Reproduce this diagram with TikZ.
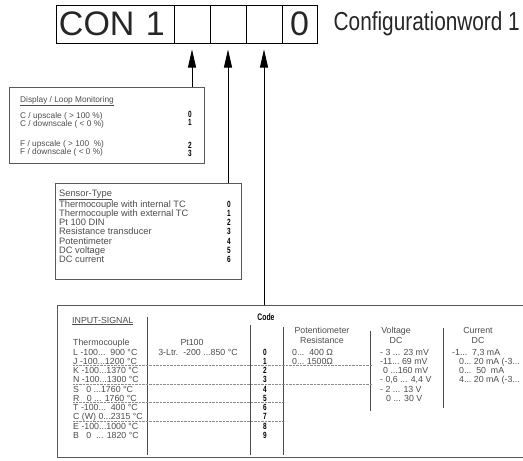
\documentclass[tikz,border=0pt]{standalone}
\usepackage{fontspec}
\setmainfont{Liberation Sans}
\newfontfamily\condfont[FakeStretch=0.8]{Liberation Sans}
\newfontfamily\digfont[FakeStretch=0.72]{Liberation Sans Bold}
\usetikzlibrary{arrows.meta}
\newcommand{\bigsize}{\fontsize{34}{34}\selectfont}
\newcommand{\smallsize}{\fontsize{8.3}{8.3}\selectfont}
\newcommand{\listsize}{\fontsize{8.8}{8.8}\selectfont}
\tikzstyle{arrow}=[draw=black, line width=0.8pt, -{Triangle[length=18pt, width=8pt]}, shorten >=6pt]
\tikzstyle{cell}=[draw=black, line width=1pt, minimum height=38pt, inner sep=0pt, text=black!85, font=\bigsize]
\tikzstyle{panel}=[draw=black!65, line width=0.8pt, anchor=north west, inner sep=0pt]
\tikzstyle{txt}=[anchor=base west, inner sep=0pt, text=black!70]
\tikzstyle{ctxt}=[anchor=base, inner sep=0pt, text=black!70]
\tikzstyle{code}=[anchor=base, inner sep=0pt, font=\digfont\fontsize{9}{9}\selectfont]
\tikzstyle{sep}=[draw=black!70, line width=0.8pt]
\tikzstyle{rowline}=[draw=black!45, line width=0.4pt, densely dotted]

\begin{document}
\begin{tikzpicture}[x=1pt, y=-1pt]
		\useasboundingbox (0,0) rectangle (523,461);
		\clip (0,0) rectangle (523,461);
		\begin{scope}
			\node[cell, minimum width=118pt, text width=112pt, inner xsep=3pt, align=left] (con) at (115,24) {CON 1};
			\node[cell, minimum width=36pt] (c2) at (192,24) {};
			\node[cell, minimum width=36pt] (c3) at (228,24) {};
			\node[cell, minimum width=36pt] (c4) at (264,24) {};
			\node[cell, minimum width=35pt] (c5) at (299.5,24) {0};
			\node[anchor=west, inner sep=0pt, text=black!85, font=\condfont\fontsize{26}{26}\selectfont] (word) at ([xshift=16pt]c5.east) {Configurationword 1};
		\end{scope}
		\begin{scope}
			\node[panel, minimum width=195pt, minimum height=76pt] (disp) at (9,87) {};
			\node[panel, minimum width=186pt, minimum height=96pt] (sens) at (55,183) {};
			\node[panel, minimum width=480pt, minimum height=152pt, line width=1.2pt] (inp) at (57,305) {};
		\end{scope}
		\begin{scope}
			\path (disp.north -| c2) edge[arrow] (c2.south);
			\path (sens.north -| c3) edge[arrow] (c3.south);
			\path (inp.north -| c4) edge[arrow] (c4.south);
		\end{scope}
		\begin{scope}[font=\smallsize]
			\node[txt] (dhead) at (20,102) {\underline{Display / Loop Monitoring}};
			\node[txt] (dcup) at (20,118) {C / upscale ( > 100 \%)};
			\node[txt] (dcdown) at (20,126) {C / downscale ( < 0 \%)};
			\node[txt] (dfup) at (20,146) {F / upscale ( > 100\ \ \%)};
			\node[txt] (dfdown) at (20,154) {F / downscale ( < 0 \%)};
			\node[code] (d0) at (190,117) {0};
			\node[code] (d1) at (190,125) {1};
			\node[code] (d2) at (190,148) {2};
			\node[code] (d3) at (190,156) {3};
		\end{scope}
		\begin{scope}[font=\fontsize{9.3}{9.3}\selectfont]
			\node[txt] (shead) at (59,196) {\underline{Sensor-Type}};
			\node[txt] (s0) at (59,207) {Thermocouple with internal TC};
			\node[txt] (s1) at (59,216.3) {Thermocouple with external TC};
			\node[txt] (s2) at (59,225.6) {Pt 100 DIN};
			\node[txt] (s3) at (59,234.9) {Resistance transducer};
			\node[txt] (s4) at (59,244.2) {Potentimeter};
			\node[txt] (s5) at (59,253.5) {DC voltage};
			\node[txt] (s6) at (59,262.8) {DC current};
			\node[code] (k0) at (229,207) {0};
			\node[code] (k1) at (229,216.3) {1};
			\node[code] (k2) at (229,225.6) {2};
			\node[code] (k3) at (229,234.9) {3};
			\node[code] (k4) at (229,244.2) {4};
			\node[code] (k5) at (229,253.5) {5};
			\node[code] (k6) at (229,262.8) {6};
		\end{scope}
		\begin{scope}[font=\listsize]
			\node[txt] (ihead) at (72,323) {\underline{INPUT-SIGNAL}};
			\node[code, font=\digfont\fontsize{9.5}{9.5}\selectfont] (icode) at (266,320) {Code};
			\node[txt] (tc) at (73,345) {Thermocouple};
			\node[txt] (tcL) at (73,355) {L -100...\ \ 900 °C};
			\node[txt] (tcJ) at (73,364.25) {J -100...1200 °C};
			\node[txt] (tcK) at (73,373.5) {K -100...1370 °C};
			\node[txt] (tcN) at (73,382.75) {N -100...1300 °C};
			\node[txt] (tcS) at (73,392) {S\ \ \ 0 ...1760 °C};
			\node[txt] (tcR) at (73,401.25) {R\ \ \ 0 ... 1760 °C};
			\node[txt] (tcT) at (73,410.5) {T -100...\ \ 400 °C};
			\node[txt] (tcC) at (73,419.75) {C (W) 0...2315 °C};
			\node[txt] (tcE) at (73,429) {E -100...1000 °C};
			\node[txt] (tcB) at (73,438.25) {B\ \ \ 0\ \ ... 1820 °C};
			\node[ctxt] (pt) at (192,345) {Pt100};
			\node[ctxt] (ptr) at (198,355) {3-Ltr.\ \ -200 ...850 °C};
			\node[ctxt] (pot) at (322,333) {Potentiometer};
			\node[ctxt] (potr) at (322,343) {Resistance};
			\node[txt] (pot0) at (292,355) {0...\ \ 400 Ω};
			\node[txt] (pot1) at (292,364.25) {0...\ 1500Ω};
			\node[ctxt] (volt) at (396,333) {Voltage};
			\node[ctxt] (voltdc) at (396,343) {DC};
			\node[txt] (v0) at (380,355) {-\ 3 ... 23 mV};
			\node[txt] (v1) at (380,364.25) {-11...\ 69 mV};
			\node[txt] (v2) at (383,373.5) {0 ...160 mV};
			\node[txt] (v3) at (380,382.75) {- 0,6 ... 4,4 V};
			\node[txt] (v4) at (380,392) {-\ 2 ... 13 V};
			\node[txt] (v5) at (386,401.25) {0 ... 30 V};
			\node[ctxt] (cur) at (478,333) {Current};
			\node[ctxt] (curdc) at (478,343) {DC};
			\node[txt] (i0) at (452,355) {-1...\ \ 7,3 mA};
			\node[txt] (i1) at (459,364.25) {0...\ 20 mA (-3...};
			\node[txt] (i2) at (459,373.5) {0...\ \ 50\ \ mA};
			\node[txt] (i3) at (459,382.75) {4...\ 20 mA (-3...};
			\node[code] (n0) at (265,355) {0};
			\node[code] (n1) at (265,364.25) {1};
			\node[code] (n2) at (265,373.5) {2};
			\node[code] (n3) at (265,382.75) {3};
			\node[code] (n4) at (265,392) {4};
			\node[code] (n5) at (265,401.25) {5};
			\node[code] (n6) at (265,410.5) {6};
			\node[code] (n7) at (265,419.75) {7};
			\node[code] (n8) at (265,429) {8};
			\node[code] (n9) at (265,438.25) {9};
		\end{scope}
		\begin{scope}
			\draw[sep] (147,317) -- (147,455);
			\draw[sep] (250,325) -- (250,455);
			\draw[sep] (283,327) -- (283,455);
			\draw[sep] (370,331) -- (370,411);
			\draw[sep] (443,328) -- (443,408);
			\draw[rowline] (73,365.3) -- (372,365.3);
			\draw[rowline] (73,383.8) -- (372,383.8);
			\draw[rowline] (73,402.3) -- (283,402.3);
			\draw[rowline] (73,420.8) -- (283,420.8);
		\end{scope}
	\end{tikzpicture}
\end{document}
